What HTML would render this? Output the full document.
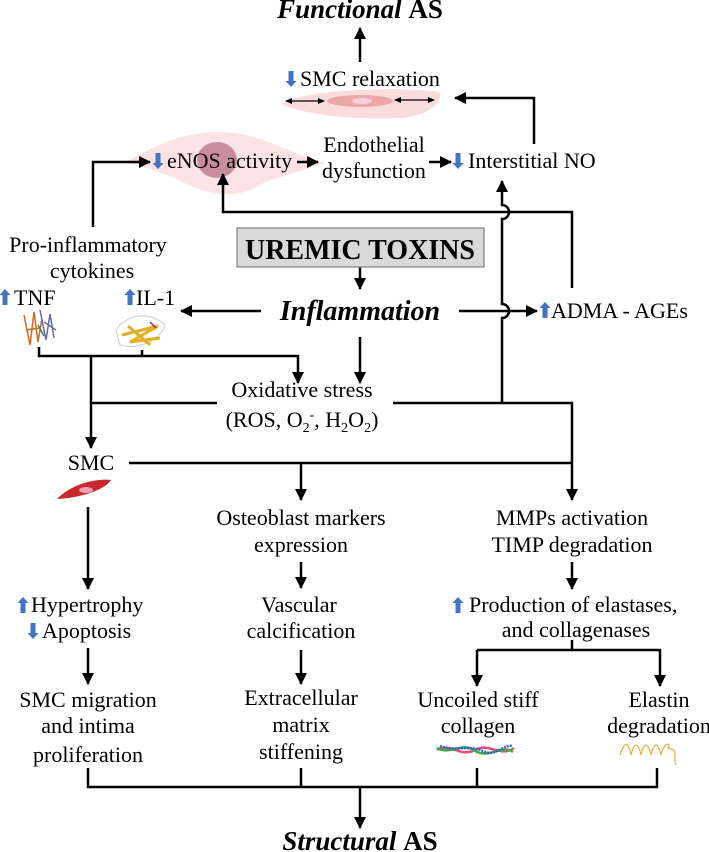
<!DOCTYPE html>
<html><head><meta charset="utf-8"><style>
html,body{margin:0;padding:0;background:#fff}
svg{display:block;font-family:'Liberation Serif','Times New Roman',Times,'DejaVu Serif',serif}
svg text{font-family:'Liberation Serif','Times New Roman',Times,'DejaVu Serif',serif;font-size:22px;fill:#000}
svg .t{font-weight:bold;font-style:italic;font-size:27px}
</style></head><body>
<svg width="709" height="852" viewBox="0 0 709 852" xmlns="http://www.w3.org/2000/svg" font-family="Liberation Serif, Times New Roman, serif">
<defs>
<marker id="a" markerUnits="userSpaceOnUse" markerWidth="14" markerHeight="14" refX="11" refY="6" orient="auto">
<path d="M0,0 L12,6 L0,12 z" fill="#000"/></marker>
<marker id="s" markerUnits="userSpaceOnUse" markerWidth="8" markerHeight="8" refX="6" refY="3" orient="auto-start-reverse">
<path d="M0,0 L7,3 L0,6 z" fill="#000"/></marker>
<g id="up"><path d="M-2.5,16 L-2.5,6 L-5.5,6 L0,0 L5.5,6 L2.5,6 L2.5,16 z" fill="#4472c4"/></g>
<g id="dn"><path d="M-2.5,0 L-2.5,10 L-5.5,10 L0,16 L5.5,10 L2.5,10 L2.5,0 z" fill="#4472c4"/></g>
</defs>

<g stroke="#000" stroke-width="2.5" fill="none">
<path d="M360,62 L360,28" marker-end="url(#a)"/>
</g>

<path d="M282,104 C300,90 390,86 439,92 C445,100 430,116 400,118 C350,120 300,114 282,104 z" fill="#fadcdc"/>
<ellipse cx="360" cy="101" rx="33" ry="6" fill="#eca7a8"/>
<ellipse cx="362" cy="101" rx="10" ry="3" fill="#f8d0dc"/>
<g stroke="#000" stroke-width="1.3" fill="none">
<path d="M286,101 L324,101" marker-start="url(#s)" marker-end="url(#s)"/>
<path d="M395,100 L434,100" marker-start="url(#s)" marker-end="url(#s)"/>
</g>

<path d="M125,162 C150,150 175,132 220,132 C260,133 280,150 325,163 C300,172 270,178 250,190 C225,200 195,190 175,178 C155,170 140,166 125,162 z" fill="#fbe0e0" opacity="0.9"/>
<ellipse cx="217" cy="160" rx="20" ry="18" fill="#c98e9b"/>

<g stroke="#000" stroke-width="2.5" fill="none">
<path d="M534,144 L534,98 L455,98" marker-end="url(#a)"/>
<path d="M93,227 L93,162 L150,162" marker-end="url(#a)"/>
<path d="M297,162 L318,162" marker-end="url(#a)"/>
<path d="M429,162 L451,162" marker-end="url(#a)"/>
<path d="M572,288 L572,212 L223,212 L223,174" marker-end="url(#a)"/>
<path d="M502,403 L502,318 A7,7 0 0 0 502,304 L502,219 A7,7 0 0 0 502,205 L502,181" marker-end="url(#a)"/>
<path d="M360,267 L360,289" marker-end="url(#a)"/>
<path d="M261,311 L181,311" marker-end="url(#a)"/>
<path d="M459,311 L537,311" marker-end="url(#a)"/>
<path d="M39,347 L39,356 L298,356 L298,383" marker-end="url(#a)"/>
<path d="M142,350 L142,356"/>
<path d="M360,337 L360,383" marker-end="url(#a)"/>
<path d="M91,356 L91,448" marker-end="url(#a)"/>
<path d="M91,403 L217,403 M393,403 L572,403 L572,500" marker-end="url(#a)"/>
<path d="M129,463 L572,463"/>
<path d="M301,463 L301,500" marker-end="url(#a)"/>
<path d="M88,507 L88,589" marker-end="url(#a)"/>
<path d="M301,562 L301,588" marker-end="url(#a)"/>
<path d="M572,562 L572,589" marker-end="url(#a)"/>
<path d="M88,648 L88,684" marker-end="url(#a)"/>
<path d="M301,650 L301,684" marker-end="url(#a)"/>
<path d="M572,640 L572,650"/>
<path d="M477,650 L477,686" marker-end="url(#a)"/>
<path d="M477,650 L660,650 L660,686" marker-end="url(#a)"/>
<path d="M88,768 L88,787 L657,787 L657,768 M301,768 L301,787 M477,768 L477,787"/>
<path d="M360,787 L360,828" marker-end="url(#a)"/>
</g>

<rect x="237" y="228" width="247" height="39" fill="#d9d9d9" stroke="#7f7f7f" stroke-width="1.2"/>
<text x="360" y="259" text-anchor="middle" style="font-weight:bold;font-size:28px">UREMIC TOXINS</text>

<text x="360" y="18" text-anchor="middle" class="t">Functional <tspan font-style="normal">AS</tspan></text>
<use href="#dn" x="291" y="71"/>
<text x="300" y="86">SMC relaxation</text>
<use href="#dn" x="158" y="153"/>
<text x="167" y="168">eNOS activity</text>
<text x="374" y="152" text-anchor="middle">Endothelial</text>
<text x="374" y="178" text-anchor="middle">dysfunction</text>
<use href="#dn" x="458" y="153"/>
<text x="468" y="168">Interstitial NO</text>
<text x="88" y="252" text-anchor="middle">Pro-inflammatory</text>
<text x="92" y="278" text-anchor="middle">cytokines</text>
<use href="#up" x="5" y="289"/>
<text x="14" y="305">TNF</text>
<use href="#up" x="130" y="289"/>
<text x="136" y="305">IL-1</text>
<text x="360" y="320" text-anchor="middle" style="font-weight:bold;font-style:italic;font-size:28px">Inflammation</text>
<use href="#up" x="545" y="302"/>
<text x="551" y="318">ADMA - AGEs</text>

<g fill="none" stroke-width="1.5">
<path d="M24,315 L30,345 L34,312 L38,342 L42,318 M26,330 L40,328" stroke="#d2691e"/>
<path d="M40,310 L46,340 L50,314 L54,338 M44,322 L56,330" stroke="#6a6aa8"/>
<path d="M38,325 L44,336" stroke="#2e8b57"/>
<path d="M116,330 C125,315 150,310 165,325 C160,340 140,350 120,345 z" stroke="#ccc" stroke-width="1"/>
<path d="M122,335 L158,326 L130,342 L160,338 M128,326 L150,345" stroke="#e0b020" stroke-width="3"/>
<path d="M150,322 L156,328" stroke="#a0207a"/>
</g>

<text x="302" y="397" text-anchor="middle">Oxidative stress</text>
<text x="302" y="427" text-anchor="middle">(ROS, O<tspan font-size="14" dy="5">2</tspan><tspan font-size="14" dy="-13">-</tspan><tspan dy="8">, H</tspan><tspan font-size="14" dy="5">2</tspan><tspan dy="-5">O</tspan><tspan font-size="14" dy="5">2</tspan><tspan dy="-5">)</tspan></text>

<text x="91" y="470" text-anchor="middle">SMC</text>
<path d="M57,499 C70,485 95,478 111,480 C105,490 80,498 57,499 z" fill="#c9282d"/>
<ellipse cx="86" cy="490" rx="7" ry="3" fill="#f2a0b8"/>

<text x="301" y="525" text-anchor="middle">Osteoblast markers</text>
<text x="301" y="552" text-anchor="middle">expression</text>
<text x="572" y="525" text-anchor="middle">MMPs activation</text>
<text x="572" y="552" text-anchor="middle">TIMP degradation</text>
<use href="#up" x="23" y="597"/>
<text x="31" y="612">Hypertrophy</text>
<use href="#dn" x="33" y="623"/>
<text x="42" y="638">Apoptosis</text>
<text x="299" y="612" text-anchor="middle">Vascular</text>
<text x="301" y="638" text-anchor="middle">calcification</text>
<use href="#up" x="458" y="597"/>
<text x="469" y="612">Production of elastases,</text>
<text x="576" y="637" text-anchor="middle">and collagenases</text>
<text x="88" y="707" text-anchor="middle">SMC migration</text>
<text x="88" y="733" text-anchor="middle">and intima</text>
<text x="88" y="762" text-anchor="middle">proliferation</text>
<text x="301" y="705" text-anchor="middle">Extracellular</text>
<text x="301" y="732" text-anchor="middle">matrix</text>
<text x="301" y="759" text-anchor="middle">stiffening</text>
<text x="478" y="707" text-anchor="middle">Uncoiled stiff</text>
<text x="478" y="733" text-anchor="middle">collagen</text>
<text x="659" y="707" text-anchor="middle">Elastin</text>
<text x="659" y="733" text-anchor="middle">degradation</text>

<g fill="none" stroke-width="2.5">
<path d="M437,750 C450,742 460,758 475,750 C490,742 500,758 514,748" stroke="#e8507a"/>
<path d="M437,748 C452,756 462,740 477,752 C492,758 502,744 513,752" stroke="#3aaa4a"/>
<path d="M440,746 C455,752 470,744 485,752 C495,756 505,744 512,746" stroke="#3060c0" stroke-dasharray="2 1"/>
</g>
<path d="M620,755 C625,740 628,742 631,755 C634,742 638,742 641,755 C644,742 648,742 651,755 C654,742 658,742 661,755 C664,742 672,742 668,748 C680,750 672,758 676,765" fill="none" stroke="#e0b040" stroke-width="1.2"/>

<text x="360" y="850" text-anchor="middle" class="t">Structural <tspan font-style="normal">AS</tspan></text>
</svg>
</body></html>
